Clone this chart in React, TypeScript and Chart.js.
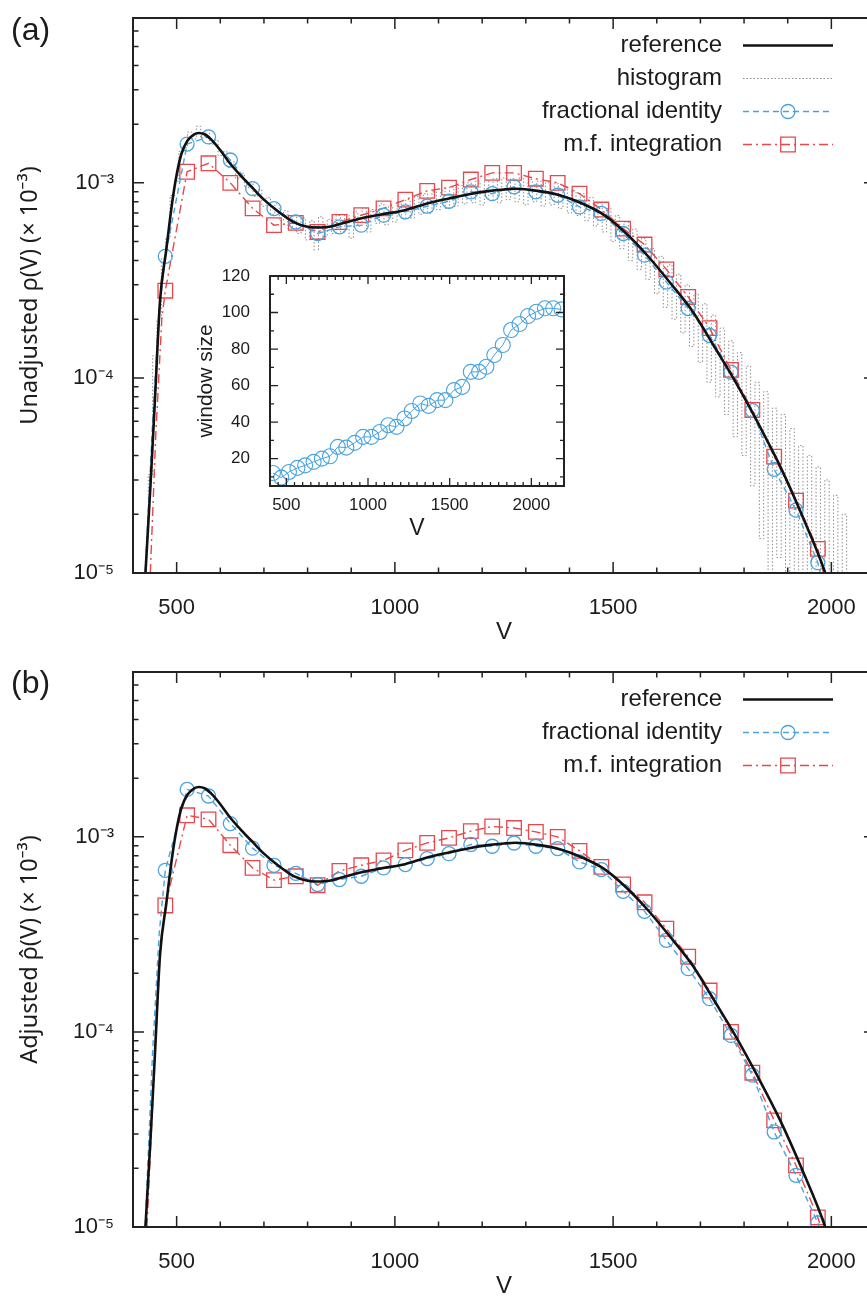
import React, { useEffect, useRef } from 'react';
import { Chart, registerables } from 'chart.js';

Chart.register(...registerables);

const FONT = "'Liberation Sans', Arimo, Arial, Helvetica, sans-serif";
const TITLE_FONT = "'Noto Sans', 'Liberation Sans', Arial, sans-serif";
const TEXT = '#1c1c1c';
const BLUE = '#4aa3df';
const RED = '#e8474c';
const GRAY = '#8c8c8c';
const BLACK = '#111111';

// ---------------- data ----------------
// reference density (same curve in both panels)
const refV = [426, 440, 450, 462, 476, 490, 500, 511, 525, 540, 551, 565, 580, 600, 622, 650, 675, 700, 729, 767, 800, 820, 850, 880, 921, 970, 1023, 1070, 1124, 1170, 1213, 1250, 1277, 1327, 1378, 1429, 1480, 1530, 1581, 1632, 1683, 1730, 1781, 1831, 1882, 1933, 1984, 1995];
const refRho = [8e-6, 2.8e-5, 7.5e-5, 2.5e-4, 4.5e-4, 8.0e-4, 1.1e-3, 1.41e-3, 1.65e-3, 1.77e-3, 1.8e-3, 1.77e-3, 1.66e-3, 1.47e-3, 1.26e-3, 1.07e-3, 9.36e-4, 8.2e-4, 7.24e-4, 6.31e-4, 5.95e-4, 5.9e-4, 5.95e-4, 6.2e-4, 6.57e-4, 6.9e-4, 7.24e-4, 7.8e-4, 8.32e-4, 8.75e-4, 9.07e-4, 9.25e-4, 9.32e-4, 9.1e-4, 8.65e-4, 7.84e-4, 6.83e-4, 5.5e-4, 4.18e-4, 3.05e-4, 2.18e-4, 1.47e-4, 9.5e-5, 5.93e-5, 3.55e-5, 1.97e-5, 1.03e-5, 8.5e-6];

// histogram (panel a), bin centres and heights
const histV = [430, 440, 450, 460, 470, 480, 490, 500, 510, 520, 530, 540, 550, 560, 570, 580, 590, 600, 610, 620, 630, 640, 650, 660, 670, 680, 690, 700, 710, 720, 730, 740, 750, 760, 770, 780, 790, 800, 810, 820, 830, 840, 850, 860, 870, 880, 890, 900, 910, 920, 930, 940, 950, 960, 970, 980, 990, 1000, 1010, 1020, 1030, 1040, 1050, 1060, 1070, 1080, 1090, 1100, 1110, 1120, 1130, 1140, 1150, 1160, 1170, 1180, 1190, 1200, 1210, 1220, 1230, 1240, 1250, 1260, 1270, 1280, 1290, 1300, 1310, 1320, 1330, 1340, 1350, 1360, 1370, 1380, 1390, 1400, 1410, 1420, 1430, 1440, 1450, 1460, 1470, 1480, 1490, 1500, 1510, 1520, 1530, 1540, 1550, 1560, 1570, 1580, 1590, 1600, 1610, 1620, 1630, 1640, 1650, 1660, 1670, 1680, 1690, 1700, 1710, 1720, 1730, 1740, 1750, 1760, 1770, 1780, 1790, 1800, 1810, 1820, 1830, 1840, 1850, 1860, 1870, 1880, 1890, 1900, 1910, 1920, 1930, 1940, 1950, 1960, 1970, 1980, 1990, 2000, 2010, 2020, 2030, 2040];
const histRho = [1.5e-5, 3.2e-5, 1.3e-4, 2.0e-4, 4.1e-4, 5.2e-4, 8.6e-4, 1.02e-3, 1.45e-3, 1.52e-3, 1.82e-3, 1.68e-3, 1.95e-3, 1.7e-3, 1.86e-3, 1.58e-3, 1.66e-3, 1.38e-3, 1.45e-3, 1.2e-3, 1.28e-3, 1.05e-3, 1.12e-3, 9.4e-4, 1.0e-3, 8.5e-4, 9.2e-4, 7.6e-4, 8.4e-4, 6.9e-4, 7.8e-4, 6.4e-4, 7.2e-4, 5.8e-4, 6.8e-4, 5.5e-4, 6.6e-4, 5.1e-4, 6.4e-4, 4.3e-4, 6.7e-4, 5.3e-4, 6.5e-4, 5.5e-4, 6.8e-4, 5.6e-4, 6.9e-4, 5.2e-4, 7.1e-4, 6.0e-4, 7.4e-4, 5.6e-4, 7.3e-4, 6.2e-4, 7.8e-4, 6.1e-4, 7.6e-4, 6.3e-4, 8.0e-4, 6.5e-4, 8.2e-4, 6.6e-4, 8.5e-4, 6.9e-4, 8.8e-4, 7.0e-4, 9.0e-4, 7.3e-4, 9.1e-4, 7.4e-4, 9.5e-4, 7.6e-4, 9.7e-4, 7.8e-4, 1.0e-3, 7.9e-4, 1.02e-3, 7.7e-4, 1.03e-3, 8.1e-4, 1.05e-3, 7.9e-4, 1.06e-3, 8.2e-4, 1.05e-3, 8.0e-4, 1.07e-3, 7.7e-4, 1.04e-3, 8.0e-4, 1.02e-3, 7.6e-4, 1.0e-3, 7.7e-4, 9.9e-4, 7.4e-4, 9.6e-4, 7.0e-4, 9.1e-4, 6.8e-4, 8.8e-4, 6.4e-4, 8.4e-4, 6.0e-4, 7.9e-4, 5.6e-4, 7.4e-4, 5.0e-4, 6.8e-4, 4.6e-4, 6.3e-4, 4.0e-4, 5.8e-4, 3.6e-4, 5.2e-4, 3.2e-4, 4.6e-4, 2.7e-4, 4.2e-4, 2.3e-4, 3.8e-4, 2.0e-4, 3.4e-4, 1.7e-4, 3.0e-4, 1.45e-4, 2.7e-4, 1.2e-4, 2.4e-4, 9.5e-5, 2.1e-4, 8.0e-5, 1.8e-4, 6.5e-5, 1.55e-4, 5.0e-5, 1.35e-4, 4.0e-5, 1.15e-4, 2.8e-5, 9.5e-5, 1.5e-5, 8.5e-5, 5e-6, 7.0e-5, 1.2e-5, 6.5e-5, 5e-6, 5.5e-5, 5e-6, 4.5e-5, 5e-6, 4.0e-5, 5e-6, 3.5e-5, 5e-6, 3.0e-5, 5e-6, 2.5e-5, 5e-6, 2.0e-5, 5e-6];

// marker positions (both estimators, both panels)
const markerV = [474, 524, 573, 623, 674, 723, 773, 823, 873, 923, 974, 1024, 1074, 1124, 1174, 1223, 1273, 1323, 1373, 1423, 1473, 1523, 1572, 1622, 1672, 1721, 1770, 1819, 1869, 1919, 1969];

// panel (a)
const fracARho = [4.2e-4, 1.58e-3, 1.72e-3, 1.31e-3, 9.35e-4, 7.38e-4, 6.3e-4, 5.5e-4, 5.95e-4, 6.07e-4, 6.83e-4, 7.1e-4, 7.59e-4, 8.05e-4, 9.0e-4, 8.8e-4, 9.54e-4, 9.0e-4, 8.64e-4, 7.53e-4, 6.97e-4, 5.5e-4, 4.26e-4, 3.1e-4, 2.27e-4, 1.65e-4, 1.07e-4, 6.8e-5, 3.4e-5, 2.1e-5, 1.13e-5];
const mfARho = [2.8e-4, 1.14e-3, 1.26e-3, 1.0e-3, 7.4e-4, 6.07e-4, 6.24e-4, 5.6e-4, 6.3e-4, 6.83e-4, 7.4e-4, 8.2e-4, 9.1e-4, 9.46e-4, 1.04e-3, 1.125e-3, 1.125e-3, 1.05e-3, 1.0e-3, 8.8e-4, 7.3e-4, 5.83e-4, 4.83e-4, 3.6e-4, 2.6e-4, 1.8e-4, 1.1e-4, 6.85e-5, 3.95e-5, 2.35e-5, 1.33e-5];
const fracALeadV = [426, 445, 460];
const fracALeadRho = [8e-6, 6e-5, 2.2e-4];
const fracATailV = [1985];
const fracATailRho = [8e-6];
const mfALeadV = [438, 452, 466];
const mfALeadRho = [8e-6, 5e-5, 2.0e-4];
const mfATailV = [1992];
const mfATailRho = [8e-6];

// panel (b)
const fracBRho = [6.74e-4, 1.75e-3, 1.62e-3, 1.17e-3, 8.75e-4, 7.15e-4, 6.5e-4, 5.7e-4, 6.04e-4, 6.28e-4, 6.93e-4, 7.21e-4, 7.74e-4, 8.2e-4, 9.14e-4, 8.95e-4, 9.3e-4, 8.95e-4, 8.71e-4, 7.44e-4, 6.8e-4, 5.26e-4, 4.15e-4, 2.95e-4, 2.11e-4, 1.48e-4, 9.6e-5, 6.0e-5, 3.07e-5, 1.84e-5, 1.05e-5];
const mfBRho = [4.45e-4, 1.29e-3, 1.23e-3, 9.06e-4, 6.93e-4, 6.0e-4, 6.28e-4, 5.65e-4, 6.69e-4, 7.15e-4, 7.58e-4, 8.53e-4, 9.31e-4, 9.88e-4, 1.07e-3, 1.13e-3, 1.11e-3, 1.06e-3, 1.0e-3, 8.48e-4, 7.02e-4, 5.7e-4, 4.62e-4, 3.38e-4, 2.43e-4, 1.63e-4, 1.0e-4, 6.18e-5, 3.52e-5, 2.07e-5, 1.12e-5];
const fracBLeadV = [426, 445, 460];
const fracBLeadRho = [8e-6, 8e-5, 3.2e-4];
const fracBTailV = [1985];
const fracBTailRho = [8e-6];
const mfBLeadV = [430, 448, 462];
const mfBLeadRho = [8e-6, 6e-5, 2.5e-4];
const mfBTailV = [1990];
const mfBTailRho = [8e-6];

// inset: window size vs V
const insetV = [418, 469, 516, 568, 615, 667, 718, 767, 815, 867, 918, 970, 1021, 1073, 1124, 1175, 1223, 1268, 1320, 1371, 1423, 1474, 1526, 1577, 1629, 1680, 1725, 1773, 1825, 1876, 1928, 1980, 2031, 2083, 2134, 2185];
const insetW = [12.1, 9.6, 12.7, 14.9, 16.3, 18.2, 20, 21.3, 26.4, 26, 28.6, 31.9, 31.9, 34.6, 38.3, 37.4, 42, 46.1, 50.2, 48.9, 52, 52, 57.5, 59.3, 67.5, 67.5, 70.3, 76.7, 82.2, 90.4, 93.7, 98.1, 100.4, 102.3, 102.3, 101.7];

// tick values
const xMajorTicks = [500, 1000, 1500, 2000];
const xMinorTicks = [600, 700, 800, 900, 1100, 1200, 1300, 1400, 1600, 1700, 1800, 1900];
const yMajorTicks = [1e-5, 1e-4, 1e-3];
const yMinorTicks = [2e-5, 3e-5, 4e-5, 5e-5, 6e-5, 7e-5, 8e-5, 9e-5, 2e-4, 3e-4, 4e-4, 5e-4, 6e-4, 7e-4, 8e-4, 9e-4, 2e-3, 3e-3, 4e-3, 5e-3, 6e-3];
const insetXMajor = [500, 1000, 1500, 2000];
const insetXMinor = [450, 550, 600, 650, 700, 750, 800, 850, 900, 950, 1050, 1100, 1150, 1200, 1250, 1300, 1350, 1400, 1450, 1550, 1600, 1650, 1700, 1750, 1800, 1850, 1900, 1950, 2050, 2100, 2150];
const insetYMajor = [20, 40, 60, 80, 100, 120];
const insetYMinor = [10, 30, 50, 70, 90, 110];

// ---------------- helpers ----------------
const SUP: Record<string, string> = { '-': '\u207B', '0': '\u2070', '1': '\u00B9', '2': '\u00B2', '3': '\u00B3', '4': '\u2074', '5': '\u2075', '6': '\u2076', '7': '\u2077', '8': '\u2078', '9': '\u2079' };
const decadeLabel = (v: number) =>
  '10' + String(Math.round(Math.log10(v))).split('').map((c) => SUP[c] || c).join('');
const pts = (xs: number[], ys: number[]) => xs.map((x, i) => ({ x, y: ys[i] }));

const framePlugin = {
  id: 'frame',
  afterDatasetsDraw(chart: any, _args: any, o: any) {
    const { ctx, chartArea: a, scales } = chart;
    const xs = scales.x;
    const ys = scales.y;
    ctx.save();
    ctx.strokeStyle = o.color;
    ctx.lineWidth = o.tickWidth;
    ctx.setLineDash([]);
    ctx.beginPath();
    const xt = (vals: number[], len: number) =>
      vals.forEach((v) => {
        const p = xs.getPixelForValue(v);
        ctx.moveTo(p, a.bottom);
        ctx.lineTo(p, a.bottom - len);
        ctx.moveTo(p, a.top);
        ctx.lineTo(p, a.top + len);
      });
    const yt = (vals: number[], len: number) =>
      vals.forEach((v) => {
        const p = ys.getPixelForValue(v);
        ctx.moveTo(a.left, p);
        ctx.lineTo(a.left + len, p);
        ctx.moveTo(a.right, p);
        ctx.lineTo(a.right - len, p);
      });
    xt(o.xMajor, o.majorLen);
    xt(o.xMinor, o.minorLen);
    yt(o.yMajor, o.majorLen);
    yt(o.yMinor, o.minorLen);
    ctx.stroke();
    ctx.lineWidth = o.frameWidth;
    ctx.strokeRect(a.left, a.top, a.right - a.left, a.bottom - a.top);
    ctx.restore();
  },
};

const sideLegendPlugin = {
  id: 'sideLegend',
  afterDatasetsDraw(chart: any, _args: any, o: any) {
    if (!o || !o.entries) return;
    const { ctx } = chart;
    const ds = chart.data.datasets;
    ctx.save();
    o.entries.forEach((e: any, i: number) => {
      const y = o.top + i * o.rowGap;
      const line = ds[e.line];
      ctx.font = `${o.fontSize}px ${FONT}`;
      ctx.fillStyle = o.color;
      ctx.textAlign = 'right';
      ctx.textBaseline = 'middle';
      ctx.fillText(line.label, o.textRight, y);
      ctx.strokeStyle = line.borderColor;
      ctx.lineWidth = line.borderWidth;
      ctx.setLineDash(line.borderDash || []);
      ctx.beginPath();
      ctx.moveTo(o.sampleLeft, y);
      ctx.lineTo(o.sampleRight, y);
      ctx.stroke();
      if (e.marker != null) {
        const m = ds[e.marker];
        const cx = (o.sampleLeft + o.sampleRight) / 2;
        ctx.setLineDash([]);
        ctx.strokeStyle = m.pointBorderColor;
        ctx.lineWidth = m.pointBorderWidth;
        ctx.beginPath();
        if (m.pointStyle === 'rect') {
          const h = m.pointRadius * Math.SQRT1_2;
          ctx.rect(cx - h, y - h, 2 * h, 2 * h);
        } else {
          ctx.arc(cx, y, m.pointRadius, 0, Math.PI * 2);
        }
        ctx.stroke();
      }
    });
    ctx.restore();
  },
};

const hiddenGrid = (tl: number) => ({
  display: true,
  drawOnChartArea: false,
  drawTicks: true,
  tickLength: tl,
  color: 'rgba(0,0,0,0)',
});

function lineDs(label: string, xs: number[], ys: number[], color: string, width: number, dash: number[]) {
  return {
    label,
    data: pts(xs, ys),
    showLine: true,
    borderColor: color,
    borderWidth: width,
    borderDash: dash,
    pointRadius: 0,
    tension: 0,
  };
}

function markerDs(label: string, xs: number[], ys: number[], color: string, style: string, r: number) {
  return {
    label,
    data: pts(xs, ys),
    showLine: false,
    pointStyle: style,
    pointRadius: r,
    pointBorderColor: color,
    pointBackgroundColor: 'rgba(0,0,0,0)',
    pointBorderWidth: 1.3,
  };
}

function mainConfig(datasets: any[], yTitle: string, entries: any[]) {
  return {
    type: 'scatter',
    data: { datasets },
    options: {
      animation: false,
      responsive: false,
      maintainAspectRatio: false,
      events: [],
      layout: { autoPadding: false, padding: { left: 0, top: 18, right: 1, bottom: 0 } },
      scales: {
        x: {
          type: 'linear',
          min: 400,
          max: 2100,
          afterBuildTicks: (s: any) => {
            s.ticks = xMajorTicks.map((v) => ({ value: v }));
          },
          afterFit: (s: any) => {
            s.height = 76;
          },
          grid: hiddenGrid(22),
          border: { display: false },
          ticks: {
            autoSkip: false,
            maxRotation: 0,
            padding: 0,
            color: TEXT,
            font: { family: FONT, size: 22 },
            callback: (v: any) => String(v),
          },
          title: {
            display: true,
            text: 'V',
            color: TEXT,
            font: { family: FONT, size: 24 },
            padding: { top: 0, bottom: 2 },
          },
        },
        y: {
          type: 'logarithmic',
          min: 1e-5,
          max: 7e-3,
          afterBuildTicks: (s: any) => {
            s.ticks = yMajorTicks.map((v) => ({ value: v }));
          },
          afterFit: (s: any) => {
            s.width = 133;
          },
          grid: hiddenGrid(19),
          border: { display: false },
          ticks: {
            autoSkip: false,
            padding: 0,
            color: TEXT,
            font: { family: FONT, size: 22 },
            callback: (v: any) => decadeLabel(Number(v)),
          },
          title: {
            display: true,
            text: yTitle,
            color: TEXT,
            font: { family: TITLE_FONT, size: 23.5 },
            padding: { top: 16, bottom: 0 },
          },
        },
      },
      plugins: {
        legend: { display: false },
        tooltip: { enabled: false },
        frame: {
          xMajor: xMajorTicks,
          xMinor: xMinorTicks,
          yMajor: yMajorTicks,
          yMinor: yMinorTicks,
          majorLen: 11,
          minorLen: 5.5,
          tickWidth: 1.5,
          frameWidth: 2,
          color: '#222',
        },
        sideLegend: {
          entries,
          top: 45.5,
          rowGap: 33,
          textRight: 722,
          sampleLeft: 743,
          sampleRight: 833,
          fontSize: 24,
          color: TEXT,
        },
      },
    },
    plugins: [framePlugin, sideLegendPlugin],
  };
}

function panelA() {
  const datasets = [
    { label: 'reference', data: pts(refV, refRho), showLine: true, borderColor: BLACK, borderWidth: 2.6, pointRadius: 0, cubicInterpolationMode: 'monotone' },
    lineDs('fractional identity', [...fracALeadV, ...markerV, ...fracATailV], [...fracALeadRho, ...fracARho, ...fracATailRho], BLUE, 1.4, [6, 4]),
    markerDs('fractional identity markers', markerV, fracARho, BLUE, 'circle', 7),
    lineDs('m.f. integration', [...mfALeadV, ...markerV, ...mfATailV], [...mfALeadRho, ...mfARho, ...mfATailRho], RED, 1.4, [9, 4, 2, 4]),
    markerDs('m.f. integration markers', markerV, mfARho, RED, 'rect', 10.3),
    { label: 'histogram', data: pts(histV, histRho), showLine: true, stepped: 'middle', borderColor: GRAY, borderWidth: 1, borderDash: [1.5, 2], pointRadius: 0 },
  ];
  return mainConfig(datasets, 'Unadjusted \u03C1(V) (\u00D7 10\u207B\u00B3)', [
    { line: 0 },
    { line: 5 },
    { line: 1, marker: 2 },
    { line: 3, marker: 4 },
  ]);
}

function panelB() {
  const datasets = [
    { label: 'reference', data: pts(refV, refRho), showLine: true, borderColor: BLACK, borderWidth: 2.6, pointRadius: 0, cubicInterpolationMode: 'monotone' },
    lineDs('fractional identity', [...fracBLeadV, ...markerV, ...fracBTailV], [...fracBLeadRho, ...fracBRho, ...fracBTailRho], BLUE, 1.4, [6, 4]),
    markerDs('fractional identity markers', markerV, fracBRho, BLUE, 'circle', 7),
    lineDs('m.f. integration', [...mfBLeadV, ...markerV, ...mfBTailV], [...mfBLeadRho, ...mfBRho, ...mfBTailRho], RED, 1.4, [9, 4, 2, 4]),
    markerDs('m.f. integration markers', markerV, mfBRho, RED, 'rect', 10.3),
  ];
  return mainConfig(datasets, 'Adjusted \u03C1\u0302(V) (\u00D7 10\u207B\u00B3)', [
    { line: 0 },
    { line: 1, marker: 2 },
    { line: 3, marker: 4 },
  ]);
}

function insetConfig() {
  return {
    type: 'scatter',
    data: {
      datasets: [
        {
          label: 'window size',
          data: pts(insetV, insetW),
          showLine: true,
          borderColor: BLUE,
          borderWidth: 1,
          pointStyle: 'circle',
          pointRadius: 7.5,
          pointBorderColor: BLUE,
          pointBackgroundColor: 'rgba(0,0,0,0)',
          pointBorderWidth: 1.1,
          tension: 0,
        },
      ],
    },
    options: {
      animation: false,
      responsive: false,
      maintainAspectRatio: false,
      events: [],
      layout: { autoPadding: false, padding: { left: 0, top: 24, right: 16, bottom: 0 } },
      scales: {
        x: {
          type: 'linear',
          min: 400,
          max: 2200,
          afterBuildTicks: (s: any) => {
            s.ticks = insetXMajor.map((v) => ({ value: v }));
          },
          afterFit: (s: any) => {
            s.height = 74;
          },
          grid: hiddenGrid(9),
          border: { display: false },
          ticks: {
            autoSkip: false,
            maxRotation: 0,
            padding: 0,
            color: TEXT,
            font: { family: FONT, size: 17 },
            callback: (v: any) => String(v),
          },
          title: {
            display: true,
            text: 'V',
            color: TEXT,
            font: { family: FONT, size: 23 },
            padding: { top: 0, bottom: 18 },
          },
        },
        y: {
          type: 'linear',
          min: 5,
          max: 120,
          afterBuildTicks: (s: any) => {
            s.ticks = insetYMajor.map((v) => ({ value: v }));
          },
          afterFit: (s: any) => {
            s.width = 78;
          },
          grid: hiddenGrid(20),
          border: { display: false },
          ticks: {
            autoSkip: false,
            padding: 0,
            color: TEXT,
            font: { family: FONT, size: 17 },
            callback: (v: any) => String(v),
          },
          title: {
            display: true,
            text: 'window size',
            color: TEXT,
            font: { family: FONT, size: 21 },
            padding: { top: 2, bottom: 0 },
          },
        },
      },
      plugins: {
        legend: { display: false },
        tooltip: { enabled: false },
        frame: {
          xMajor: insetXMajor,
          xMinor: insetXMinor,
          yMajor: insetYMajor,
          yMinor: insetYMinor,
          majorLen: 8,
          minorLen: 4,
          tickWidth: 1.3,
          frameWidth: 2,
          color: '#222',
        },
      },
    },
    plugins: [framePlugin],
  };
}

function ChartCanvas(props: { make: () => any; left: number; top: number; width: number; height: number; bg?: string }) {
  const ref = useRef<HTMLCanvasElement>(null);
  useEffect(() => {
    const chart = new Chart(ref.current as HTMLCanvasElement, props.make() as any);
    return () => chart.destroy();
  }, []);
  return (
    <div
      style={{
        position: 'absolute',
        left: props.left,
        top: props.top,
        width: props.width,
        height: props.height,
        background: props.bg || 'transparent',
      }}
    >
      <canvas
        ref={ref}
        width={props.width}
        height={props.height}
        style={{ display: 'block', width: props.width, height: props.height }}
      />
    </div>
  );
}

const panelLabel = (text: string, top: number) => (
  <div
    style={{
      position: 'absolute',
      left: 11,
      top,
      fontFamily: FONT,
      fontSize: 32,
      lineHeight: '32px',
      color: TEXT,
    }}
  >
    {text}
  </div>
);

export default function App() {
  return (
    <div
      style={{
        position: 'absolute',
        left: 0,
        top: 0,
        width: 867,
        height: 1298,
        overflow: 'hidden',
        background: '#ffffff',
      }}
    >
      <ChartCanvas make={panelA} left={0} top={0} width={876} height={649} />
      <ChartCanvas make={insetConfig} left={192} top={252} width={388} height={308} bg="#ffffff" />
      <ChartCanvas make={panelB} left={0} top={654} width={876} height={649} />
      {panelLabel('(a)', 13)}
      {panelLabel('(b)', 666)}
    </div>
  );
}
